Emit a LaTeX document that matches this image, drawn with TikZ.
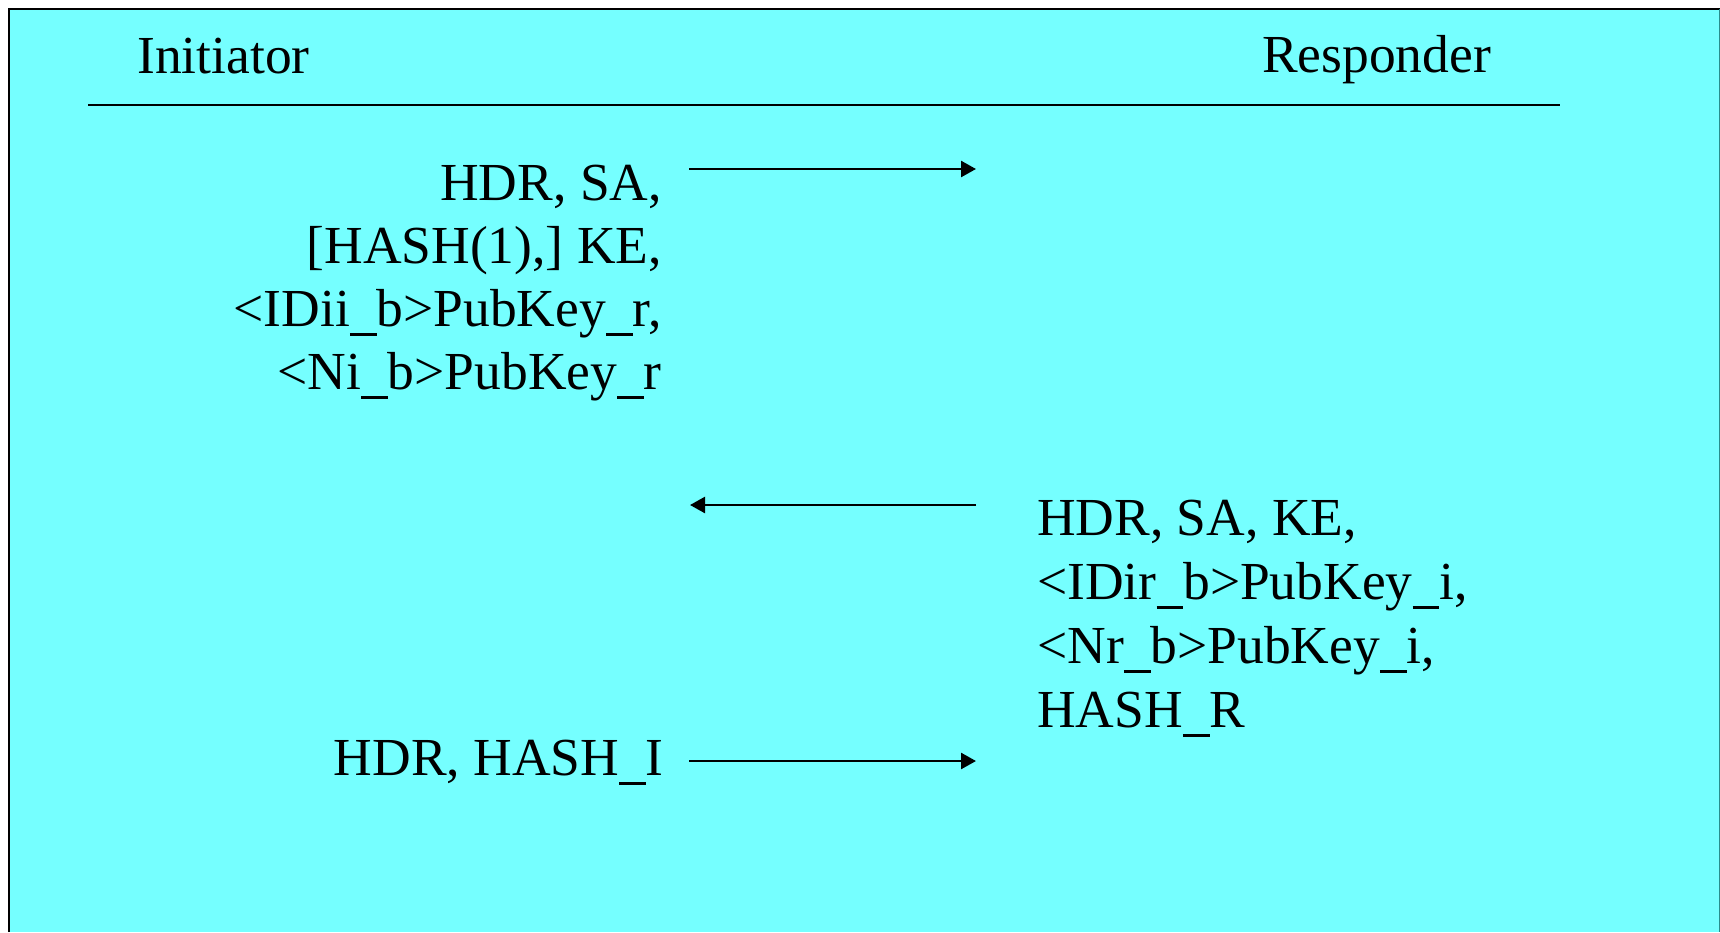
\documentclass[tikz,border=0pt]{standalone}
\usepackage{fontspec}
\setmainfont{Liberation Serif}
\usetikzlibrary{arrows.meta}
\definecolor{bgcyan}{RGB}{117,255,255}
\definecolor{edgeteal}{RGB}{40,140,140}
\newcommand{\usc}{\rule[-0.19em]{0.5em}{0.055em}}
\tikzset{
  txt/.style={inner sep=0pt, font=\fontsize{53.5}{63}\selectfont},
  msg/.style={line width=2.5pt, -{Triangle[length=15pt,width=16pt]}},
  rule/.style={line width=2.8pt}
}
\begin{document}
\begin{tikzpicture}[x=1pt,y=-1pt]
\useasboundingbox (0,0) rectangle (1720,932);
\fill[white] (0,0) rectangle (1720,932);
\fill[bgcyan] (9,9) rectangle (1720,932);
\draw[line width=2.5pt] (9,932) -- (9,9) -- (1720,9);
\draw[edgeteal, line width=1pt] (1719,9) -- (1719,932);

% headers
\node[txt, anchor=base west] (ini) at (137,73) {Initiator};
\node[txt, anchor=base west] (res) at (1262,72) {Responder};
\coordinate (ruleL) at (88,105);
\coordinate (ruleR) at (1560,105);
\draw[rule] (ruleL) -- (ruleR);

% message 1
\node[txt, anchor=base east] (m1a) at (662,200) {HDR, SA,};
\node[txt, anchor=base east] (m1b) at (662,263) {[HASH(1),] KE,};
\node[txt, anchor=base east] (m1c) at (662,326) {<IDii\usc b>PubKey\usc r,};
\node[txt, anchor=base east] (m1d) at (662,389) {<Ni\usc b>PubKey\usc r};
\coordinate (a1s) at (689,169);
\coordinate (a1e) at (976,169);
\draw[msg] (a1s) -- (a1e);

% message 2
\node[txt, anchor=base west] (m2a) at (1037,535) {HDR, SA, KE,};
\node[txt, anchor=base west] (m2b) at (1037,599) {<IDir\usc b>PubKey\usc i,};
\node[txt, anchor=base west] (m2c) at (1037,663) {<Nr\usc b>PubKey\usc i,};
\node[txt, anchor=base west] (m2d) at (1037,727) {HASH\usc R};
\coordinate (a2s) at (976,505);
\coordinate (a2e) at (690,505);
\draw[msg] (a2s) -- (a2e);

% message 3
\node[txt, anchor=base east] (m3a) at (664,775) {HDR, HASH\usc I};
\coordinate (a3s) at (689,761);
\coordinate (a3e) at (976,761);
\draw[msg] (a3s) -- (a3e);
\end{tikzpicture}
\end{document}
